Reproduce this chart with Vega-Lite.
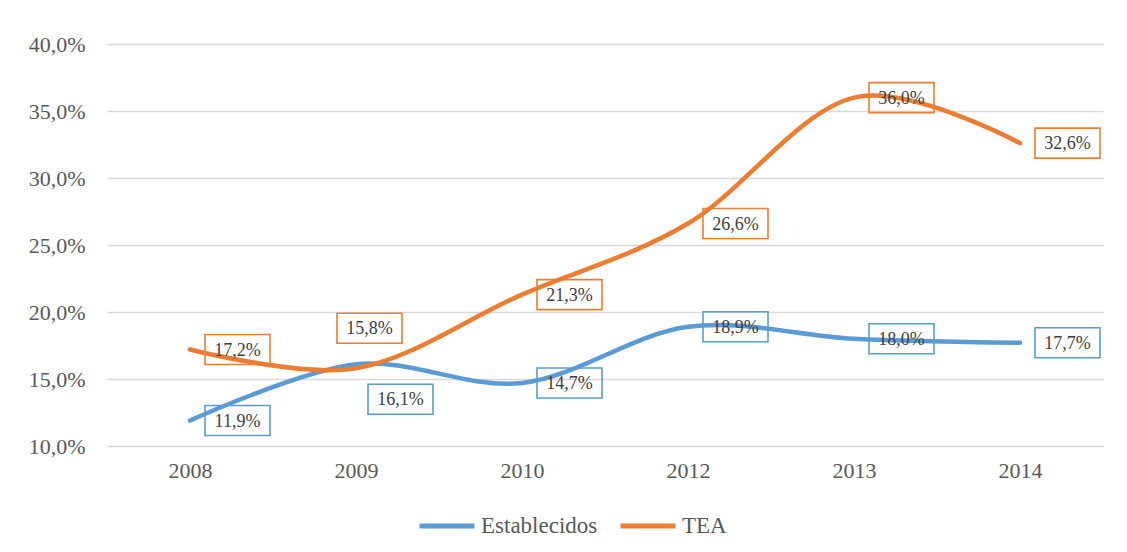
{
  "$schema": "https://vega.github.io/schema/vega-lite/v6.json",
  "autosize": "none",
  "width": 996,
  "height": 402,
  "padding": {"left": 107, "top": 44, "right": 24, "bottom": 106},
  "background": "white",
  "config": {
    "locale": {"number": {"decimal": ",", "thousands": ".", "grouping": [3], "currency": ["", " €"]}},
    "view": {"stroke": null},
    "font": "Liberation Serif"
  },
  "data": {
    "values": [
      {"year": "2008", "series": "Establecidos", "value": 0.119},
      {"year": "2009", "series": "Establecidos", "value": 0.161},
      {"year": "2010", "series": "Establecidos", "value": 0.147},
      {"year": "2012", "series": "Establecidos", "value": 0.189},
      {"year": "2013", "series": "Establecidos", "value": 0.180},
      {"year": "2014", "series": "Establecidos", "value": 0.177},
      {"year": "2008", "series": "TEA", "value": 0.172},
      {"year": "2009", "series": "TEA", "value": 0.158},
      {"year": "2010", "series": "TEA", "value": 0.213},
      {"year": "2012", "series": "TEA", "value": 0.266},
      {"year": "2013", "series": "TEA", "value": 0.360},
      {"year": "2014", "series": "TEA", "value": 0.326}
    ]
  },
  "encoding": {
    "x": {
      "field": "year", "type": "ordinal",
      "scale": {"type": "point", "padding": 0.5},
      "axis": {"title": null, "labelAngle": 0, "ticks": false, "domain": false, "grid": false,
               "labelFont": "Liberation Serif", "labelFontSize": 22, "labelColor": "#595959", "labelPadding": 14}
    },
    "y": {
      "field": "value", "type": "quantitative",
      "scale": {"domain": [0.10, 0.40], "nice": false, "zero": false},
      "axis": {"title": null, "format": ".1%", "values": [0.10, 0.15, 0.20, 0.25, 0.30, 0.35, 0.40],
               "labelOverlap": false, "ticks": false, "domain": false, "grid": true, "gridColor": "#d9d9d9", "gridWidth": 1.3,
               "labelFont": "Liberation Serif", "labelFontSize": 22, "labelColor": "#595959", "labelPadding": 22}
    }
  },
  "layer": [
    {
      "mark": {"type": "line", "interpolate": "cardinal", "strokeWidth": 4.5, "strokeCap": "round", "strokeJoin": "round"},
      "encoding": {
        "color": {
          "field": "series", "type": "nominal",
          "scale": {"domain": ["Establecidos", "TEA"], "range": ["#5B9BD5", "#ED7D31"]},
          "legend": {
            "title": null, "orient": "none", "direction": "horizontal", "legendX": 310, "legendY": 452,
            "symbolType": "stroke", "symbolSize": 3025, "symbolStrokeWidth": 5,
            "labelFont": "Liberation Serif", "labelFontSize": 23, "labelColor": "#595959",
            "labelOffset": 4, "columnPadding": 12
          }
        }
      }
    },
    {
      "transform": [{"filter": "datum.year != '2009'"}],
      "mark": {"type": "point", "filled": false, "strokeWidth": 1.6, "opacity": 1,
               "shape": "M0.4615,-0.4615L2.4615,-0.4615L2.4615,0.4615L0.4615,0.4615Z", "size": 4225},
      "encoding": {
        "stroke": {"field": "series", "type": "nominal",
                   "scale": {"domain": ["Establecidos", "TEA"], "range": ["#5B9BD5", "#ED7D31"]}, "legend": null}
      }
    },
    {
      "transform": [{"filter": "datum.year == '2009' && datum.series == 'TEA'"}],
      "mark": {"type": "point", "filled": false, "strokeWidth": 1.6, "opacity": 1,
               "shape": "M-0.5846,-1.6923L1.4154,-1.6923L1.4154,-0.7692L-0.5846,-0.7692Z", "size": 4225},
      "encoding": {
        "stroke": {"field": "series", "type": "nominal",
                   "scale": {"domain": ["Establecidos", "TEA"], "range": ["#5B9BD5", "#ED7D31"]}, "legend": null}
      }
    },
    {
      "transform": [{"filter": "datum.year == '2009' && datum.series == 'Establecidos'"}],
      "mark": {"type": "point", "filled": false, "strokeWidth": 1.6, "opacity": 1,
               "shape": "M0.3692,0.6154L2.3692,0.6154L2.3692,1.5385L0.3692,1.5385Z", "size": 4225},
      "encoding": {
        "stroke": {"field": "series", "type": "nominal",
                   "scale": {"domain": ["Establecidos", "TEA"], "range": ["#5B9BD5", "#ED7D31"]}, "legend": null}
      }
    },
    {
      "transform": [{"filter": "datum.year != '2009'"}],
      "mark": {"type": "text", "dx": 47.5, "dy": 1, "align": "center", "baseline": "middle",
               "font": "Liberation Serif", "fontSize": 18, "color": "#404040"},
      "encoding": {"text": {"field": "value", "type": "quantitative", "format": ".1%"}}
    },
    {
      "transform": [{"filter": "datum.year == '2009' && datum.series == 'TEA'"}],
      "mark": {"type": "text", "dx": 13.5, "dy": -39, "align": "center", "baseline": "middle",
               "font": "Liberation Serif", "fontSize": 18, "color": "#404040"},
      "encoding": {"text": {"field": "value", "type": "quantitative", "format": ".1%"}}
    },
    {
      "transform": [{"filter": "datum.year == '2009' && datum.series == 'Establecidos'"}],
      "mark": {"type": "text", "dx": 44.5, "dy": 36, "align": "center", "baseline": "middle",
               "font": "Liberation Serif", "fontSize": 18, "color": "#404040"},
      "encoding": {"text": {"field": "value", "type": "quantitative", "format": ".1%"}}
    }
  ]
}
